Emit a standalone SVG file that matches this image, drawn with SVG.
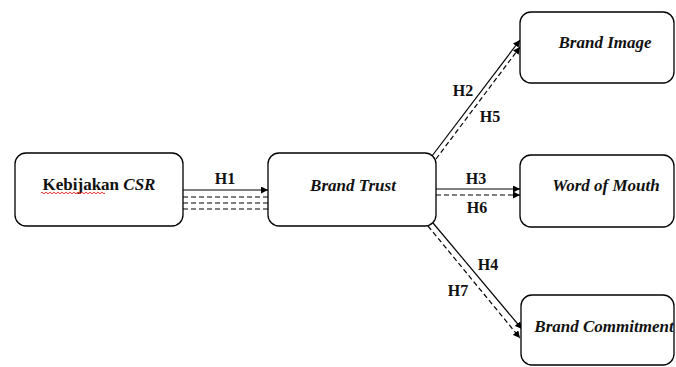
<svg xmlns="http://www.w3.org/2000/svg" width="676" height="367" viewBox="0 0 676 367">
<style>
.box{fill:#fff;stroke:#000;stroke-width:1.3}
.t{font-family:"Liberation Serif","Times New Roman",serif;font-size:17px;font-weight:bold;font-style:italic;fill:#111;text-anchor:middle}
.h{font-family:"Liberation Serif","Times New Roman",serif;font-size:16px;font-weight:bold;fill:#111;text-anchor:middle}
.s{stroke:#000;stroke-width:1.2;fill:none}
.d{stroke:#000;stroke-width:1.2;fill:none;stroke-dasharray:5,3}
</style>
<defs>
<marker id="a" viewBox="0 0 10 10" refX="10" refY="5" markerWidth="7" markerHeight="7" orient="auto" markerUnits="userSpaceOnUse">
<path d="M0,0L10,5L0,10z" fill="#000"/>
</marker>
</defs>
<rect width="676" height="367" fill="#fff"/>
<g id="connectors">
<line class="s" x1="183" y1="190" x2="268" y2="190" marker-end="url(#a)"/>
<line class="d" x1="183" y1="197" x2="268" y2="197"/>
<line class="d" x1="183" y1="203" x2="268" y2="203"/>
<line class="d" x1="183" y1="209" x2="268" y2="209"/>
<line class="s" x1="432" y1="156" x2="520" y2="40" marker-end="url(#a)"/>
<line class="d" x1="436" y1="159" x2="520" y2="47" marker-end="url(#a)"/>
<line class="s" x1="436" y1="189" x2="520" y2="189" marker-end="url(#a)"/>
<line class="d" x1="436" y1="195" x2="520" y2="195" marker-end="url(#a)"/>
<line class="s" x1="433" y1="223" x2="522" y2="329" marker-end="url(#a)"/>
<line class="d" x1="428" y1="226" x2="520" y2="338" marker-end="url(#a)"/>
<text class="h" x="225" y="184">H1</text>
<text class="h" x="463" y="96">H2</text>
<text class="h" x="490" y="122">H5</text>
<text class="h" x="476" y="184">H3</text>
<text class="h" x="477" y="213">H6</text>
<text class="h" x="488" y="270">H4</text>
<text class="h" x="458" y="296">H7</text>
</g>
<g id="csr">
<rect class="box" x="15" y="153" width="168" height="73" rx="11"/>
<text class="t" x="99" y="190"><tspan font-style="normal">Kebijakan</tspan> CSR</text>
<path d="M41,193 q1,-1.5 2,0 t2,0 t2,0 t2,0 t2,0 t2,0 t2,0 t2,0 t2,0 t2,0 t2,0 t2,0 t2,0 t2,0 t2,0 t2,0 t2,0 t2,0 t2,0 t2,0 t2,0 t2,0 t2,0 t2,0 t2,0 t2,0 t2,0 t2,0 t2,0 t2,0 t2,0 t2,0" stroke="#e03030" stroke-width="1" fill="none"/>
</g>
<g id="trust">
<rect class="box" x="268" y="153" width="168" height="73" rx="11"/>
<text class="t" x="353" y="191">Brand Trust</text>
</g>
<g id="image">
<rect class="box" x="520" y="12" width="154" height="71" rx="11"/>
<text class="t" x="605" y="48">Brand Image</text>
</g>
<g id="wom">
<rect class="box" x="520" y="155" width="154" height="72" rx="11"/>
<text class="t" x="606" y="191">Word of Mouth</text>
</g>
<g id="commit">
<rect class="box" x="521" y="295" width="153" height="70" rx="11"/>
<text class="t" x="604" y="332">Brand Commitment</text>
</g>
</svg>
